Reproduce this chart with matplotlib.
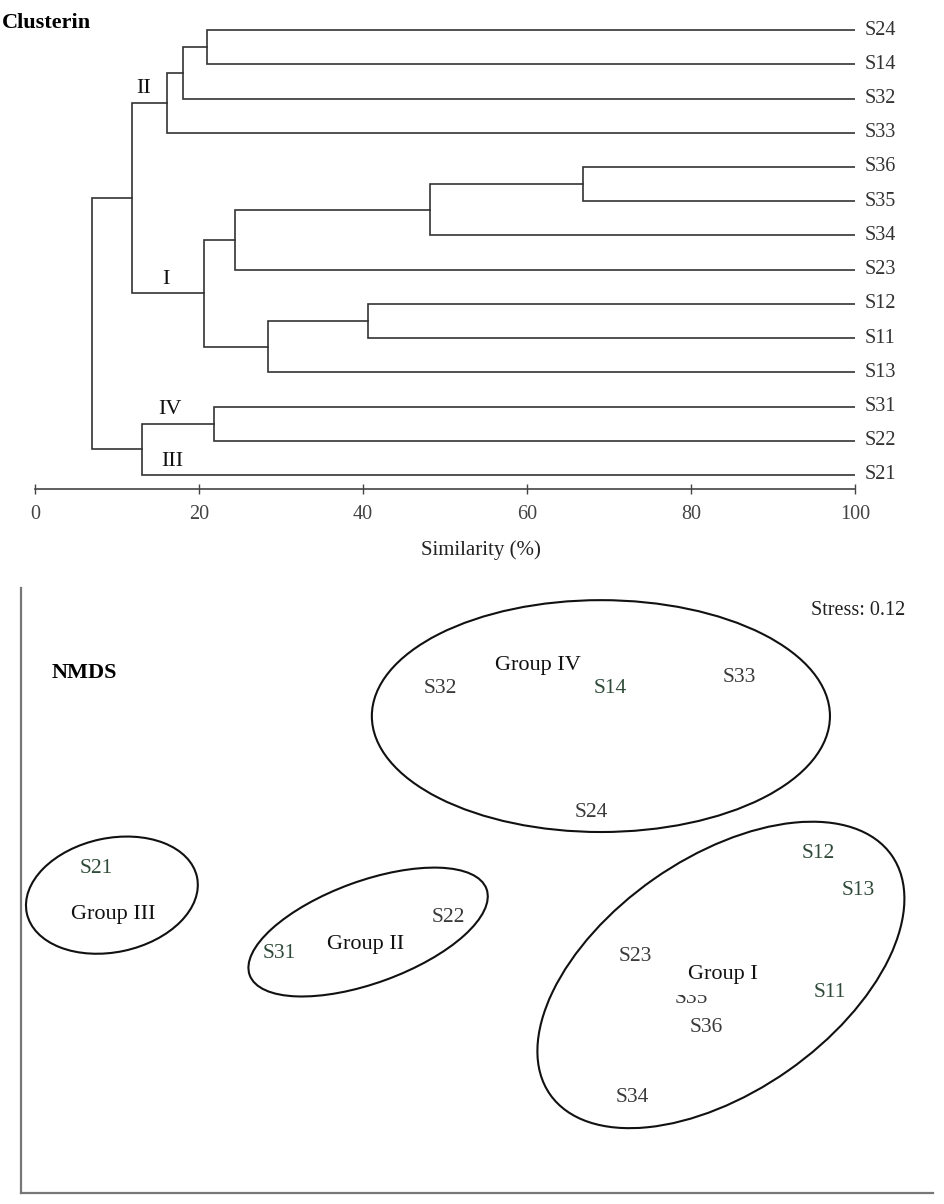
import matplotlib
matplotlib.use('Agg')
import matplotlib.pyplot as plt
from matplotlib.patches import Ellipse, Rectangle

plt.rcParams['font.family'] = ['Liberation Serif', 'DejaVu Serif']

# --- cluster tree (similarity %) ---
leaves = ['S24', 'S14', 'S32', 'S33', 'S36', 'S35', 'S34',
          'S23', 'S12', 'S11', 'S13', 'S31', 'S22', 'S21']
# each merge joins two nodes; ids >= 14 refer to earlier merges (scipy style)
merge_a = [0, 14, 15, 4, 17, 18, 8, 20, 19, 16, 11, 24, 23]
merge_b = [1, 2, 3, 5, 6, 7, 9, 10, 21, 22, 12, 13, 25]
merge_sim = [21.0, 18.0, 16.1, 66.8, 48.2, 24.4, 40.6, 28.4, 20.6, 11.8, 21.8, 13.0, 6.9]
clade_names = ['II', 'I', 'IV', 'III']
clade_nodes = [16, 22, 24, 13]
clade_text_x = [13.3, 16.0, 16.5, 16.7]

# --- NMDS ordination ---
nmds_labels = ['S32', 'S14', 'S33', 'S24', 'S21', 'S22', 'S31',
               'S12', 'S13', 'S23', 'S11', 'S35', 'S36', 'S34']
nmds1 = [-0.123, 0.443, 0.873, 0.380, -1.270, -0.097, -0.660,
         1.137, 1.270, 0.527, 1.177, 0.713, 0.763, 0.517]
nmds2 = [0.673, 0.673, 0.707, 0.260, 0.073, -0.090, -0.210,
         0.123, 0.000, -0.220, -0.340, -0.362, -0.457, -0.690]
group_names = ['Group IV', 'Group III', 'Group II', 'Group I']
group_x = [0.203, -1.213, -0.370, 0.820]
group_y = [0.750, -0.083, -0.180, -0.280]
ell_cx = [0.413, -1.217, -0.363, 0.813]
ell_cy = [0.580, -0.017, -0.140, -0.283]
ell_w = [1.527, 0.580, 0.840, 1.390]
ell_h = [0.773, 0.380, 0.340, 0.780]
ell_ang = [0, 12, 20, 35]
stress = 0.12

greenish = {'S21', 'S14', 'S31', 'S11', 'S13', 'S12'}

W, H = 945, 1204
fig = plt.figure(figsize=(W / 100, H / 100), dpi=100)

# dendrogram axes: x 0..100 -> px 35..855, axis line at px 489
ax1 = fig.add_axes([35 / W, 1 - 489 / H, 820 / W, 474 / H])
line_c = '#333333'
n = len(leaves)
node_x = [100.0] * n
node_y = [float(n - 1 - i) for i in range(n)]
for a, b, s in zip(merge_a, merge_b, merge_sim):
    ya, yb = node_y[a], node_y[b]
    ax1.plot([node_x[a], s, s, node_x[b]], [ya, ya, yb, yb],
             color=line_c, lw=1.2, solid_joinstyle='miter')
    node_x.append(s)
    node_y.append((ya + yb) / 2)

for i, lab in enumerate(leaves):
    ax1.annotate(lab, (100, node_y[i]), xytext=(7, 0), textcoords='offset points',
                 va='center', ha='left', fontsize=14.5, color='#333333',
                 annotation_clip=False)

for name, node, tx in zip(clade_names, clade_nodes, clade_text_x):
    ax1.annotate(name, (tx, node_y[node]), xytext=(0, 10), textcoords='offset points',
                 va='center', ha='center', fontsize=16, color='#111111')

ax1.set_xlim(0, 100)
ax1.set_ylim(-0.41, 13.44)
ax1.set_xticks(range(0, 101, 20))
ax1.set_yticks([])
for side in ['top', 'right', 'left']:
    ax1.spines[side].set_visible(False)
ax1.spines['bottom'].set_bounds(0, 100)
ax1.spines['bottom'].set_color('#444444')
ax1.spines['bottom'].set_linewidth(1.2)
ax1.tick_params(axis='x', direction='inout', length=7, width=1, color='#444444',
                labelsize=14.5, labelcolor='#444444', pad=8)
ax1.set_xlabel('Similarity (%)', fontsize=15, color='#222222')
ax1.xaxis.set_label_coords(0.544, -0.13)
ax1.xaxis.label.set_va('center')

fig.text(2 / W, 1 - 23 / H, 'Clusterin', fontsize=16, fontweight='bold',
         ha='left', va='center')

# NMDS axes: 300 px per unit
ax2 = fig.add_axes([21 / W, 1 - 1193 / H, 912 / W, 605 / H])
ax2.set_xlim(-1.52, 1.52)
ax2.set_ylim(-1.01, 1.007)
ax2.set_xticks([])
ax2.set_yticks([])
for side in ['top', 'right']:
    ax2.spines[side].set_visible(False)
for side in ['left', 'bottom']:
    ax2.spines[side].set_color('#777777')
    ax2.spines[side].set_linewidth(1.6)

for cx, cy, w, h, ang in zip(ell_cx, ell_cy, ell_w, ell_h, ell_ang):
    ax2.add_patch(Ellipse((cx, cy), w, h, angle=ang, fill=False,
                          edgecolor='#111111', lw=1.5))

for lab, x, y in zip(nmds_labels, nmds1, nmds2):
    col = '#2f4a38' if lab in greenish else '#3a3a3a'
    ax2.text(x, y, lab, ha='center', va='center', fontsize=15.5, color=col, zorder=3)
    if lab == 'S35':
        # top part of this label is hidden in the original figure
        ax2.add_patch(Rectangle((x - 0.08, y + 0.013), 0.16, 0.04,
                                facecolor='white', edgecolor='none', zorder=4))

for name, x, y in zip(group_names, group_x, group_y):
    ax2.text(x, y, name, ha='center', va='center', fontsize=16, color='#111111', zorder=5)

ax2.text(0.070, 0.859, 'NMDS', transform=ax2.transAxes, fontsize=16,
         fontweight='bold', ha='center', va='center')
ax2.text(0.918, 0.962, 'Stress: %.2f' % stress, transform=ax2.transAxes,
         fontsize=14.5, ha='center', va='center', color='#222222')

fig.savefig('out.png', dpi=100)
